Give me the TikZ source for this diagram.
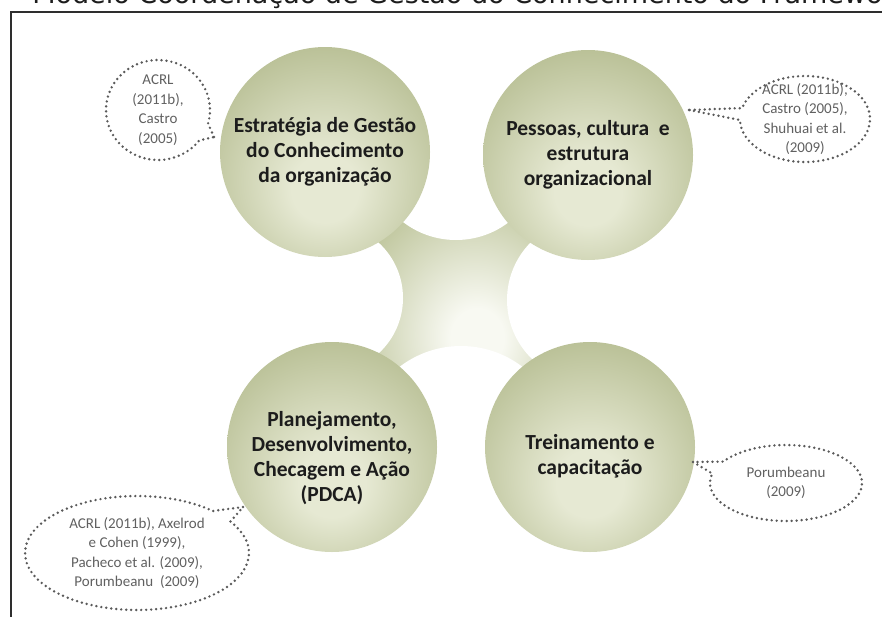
\documentclass[tikz,border=0pt]{standalone}
\usepackage{fontspec}
\setmainfont{Carlito}
\newfontfamily\capfont{DejaVu Sans}
\usetikzlibrary{shapes.callouts}

\definecolor{ballin}{HTML}{E6E9D3}
\definecolor{ballout}{HTML}{8A9556}
\definecolor{hubin}{HTML}{F8F9F2}
\definecolor{hubout}{HTML}{A0AA6E}
\definecolor{dotgrey}{HTML}{5A5A5A}
\definecolor{citegrey}{HTML}{606060}
\definecolor{labelink}{HTML}{1C1C1C}
\definecolor{framegrey}{HTML}{2E2E2E}

% sphere-like fill for the four themes, lit slightly below centre
\pgfdeclareradialshading{ballshade}{\pgfpoint{0bp}{-10bp}}{%
  color(0bp)=(ballin); color(8bp)=(ballin); color(55bp)=(ballout); color(64bp)=(ballout)}
% soft fill of the central hub
\pgfdeclareradialshading{hubshade}{\pgfpoint{4bp}{-7bp}}{%
  color(0bp)=(hubin); color(5bp)=(hubin); color(34bp)=(hubout); color(75bp)=(hubout)}

\tikzset{
  ball/.style={circle, minimum size=210pt, inner sep=0pt, shading=ballshade,
    align=center, text=labelink, font=\fontsize{21.5}{25}\selectfont\bfseries},
  cite/.style={ellipse callout, draw=dotgrey, line width=2.7pt, line cap=round,
    dash pattern=on 0pt off 5pt, inner sep=0pt, align=center, text=citegrey,
    font=\fontsize{15}{19.5}\selectfont},
  notch/.style={fill=white}
}

\begin{document}
\begin{tikzpicture}[x=1pt, y=-1pt]
\useasboundingbox (0,0) rectangle (882,616);
\clip (0,0) rectangle (882,616);

% caption line running off the top edge
\node[anchor=base west, inner sep=0pt, text=labelink,
      font=\capfont\fontsize{27}{30}\selectfont] (caption) at (10,3)
  {– Modelo Coordenação de Gestão do Conhecimento do Framework};

% surrounding frame
\draw[framegrey, line width=2pt] (11,12) rectangle (905,640);

% central hub joining the four themes
\shade[shading=hubshade] (325,152) -- (588,155) -- (590,447) -- (332,447) -- cycle;
\fill[notch] (456,153) circle (87);
\fill[notch] (328,298) circle (75);
\fill[notch] (589,300) circle (82);
\fill[notch] (461,447) circle (101);

% the four themes (lower two carry their text a little below centre)
\node[ball] (strat) at (325,152) {Estratégia de Gestão\\do Conhecimento\\da organização};
\node[ball] (people) at (588,155) {Pessoas, cultura~ e\\estrutura\\organizacional};
\node[ball] (pdca) at (332,447) {\\[12pt]Planejamento,\\Desenvolvimento,\\Checagem e Ação\\(PDCA)};
\node[ball] (train) at (590,447) {\\[8pt]Treinamento e\\capacitação};

% references attached to each theme
\coordinate (tipA) at (214,137);
\coordinate (tipB) at (689,110);
\coordinate (tipC) at (243,507);
\coordinate (tipD) at (693,462);

\node[cite, minimum width=104pt, minimum height=100pt, inner ysep=-4pt,
      callout absolute pointer={(tipA)}, callout pointer arc=22] (refA) at (158,110)
  {ACRL\\(2011b),\\Castro\\(2005)};
\node[cite, minimum width=130pt, minimum height=86pt, inner ysep=-12pt,
      callout absolute pointer={(tipB)}, callout pointer arc=16] (refB) at (805,119)
  {ACRL (2011b),\\Castro (2005),\\Shuhuai et al.\\(2009)};
\node[cite, minimum width=224pt, minimum height=114pt, inner ysep=-4pt,
      callout absolute pointer={(tipC)}, callout pointer arc=14] (refC) at (137,553)
  {ACRL (2011b), Axelrod\\e Cohen (1999),\\Pacheco et al. (2009),\\Porumbeanu~ (2009)};
\node[cite, minimum width=152pt, minimum height=76pt, callout absolute pointer={(tipD)},
      callout pointer arc=20] (refD) at (786,483)
  {Porumbeanu\\(2009)};
\end{tikzpicture}
\end{document}
